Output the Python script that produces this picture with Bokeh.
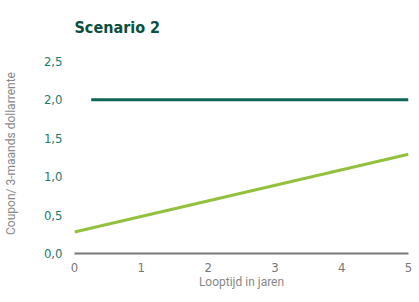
from bokeh.plotting import figure
from bokeh.models import Range1d, FixedTicker
from bokeh.embed import file_html
from bokeh.resources import INLINE

# data
x_ticks = [0, 1, 2, 3, 4, 5]
y_ticks = [0.0, 0.5, 1.0, 1.5, 2.0, 2.5]
y_tick_labels = {0.0: "0,0", 0.5: "0,5", 1.0: "1,0", 1.5: "1,5", 2.0: "2,0", 2.5: "2,5"}
coupon_x = [0.25, 5]
coupon_y = [2.0, 2.0]
rate_x = [0, 5]
rate_y = [0.28, 1.29]

COND = "DejaVu Sans Condensed"

p = figure(width=403, height=286, output_backend="svg", toolbar_location=None,
           frame_width=334, frame_height=200,
           x_range=Range1d(0, 5), y_range=Range1d(0, 2.6),
           title="Scenario 2")
p.title.text_font = COND
p.title.text_font_style = "bold"
p.title.text_font_size = "16px"
p.title.text_color = "#0b4f3f"
p.title.align = "left"
p.title.vertical_align = "top"
p.title.offset = 0
p.title.standoff = 29

p.outline_line_color = None
p.xgrid.grid_line_color = None
p.ygrid.grid_line_color = None
p.background_fill_color = "white"
p.border_fill_color = "white"

p.line(coupon_x, coupon_y, line_color="#0e6655", line_width=3)
p.line(rate_x, rate_y, line_color="#93c13e", line_width=3)

xa = p.xaxis[0]
xa.ticker = FixedTicker(ticks=x_ticks)
xa.axis_line_color = "#777777"
xa.axis_line_width = 2
xa.major_tick_line_color = None
xa.minor_tick_line_color = None
xa.major_label_text_font = COND
xa.major_label_text_font_size = "13px"
xa.major_label_text_color = "#777777"
xa.major_label_standoff = 3
xa.axis_label = "Looptijd in jaren"
xa.axis_label_text_font = "Roboto"
xa.axis_label_text_font_style = "normal"
xa.axis_label_text_font_size = "12px"
xa.axis_label_text_color = "#888888"
xa.axis_label_standoff = 0

ya = p.yaxis[0]
ya.ticker = FixedTicker(ticks=y_ticks)
ya.major_label_overrides = y_tick_labels
ya.axis_line_color = None
ya.major_tick_line_color = None
ya.minor_tick_line_color = None
ya.major_label_text_font = COND
ya.major_label_text_font_size = "13px"
ya.major_label_text_color = "#1c7a6e"
ya.major_label_standoff = 6
ya.axis_label = "Coupon/ 3-maands dollarrente"
ya.axis_label_text_font = "Roboto"
ya.axis_label_text_font_style = "normal"
ya.axis_label_text_font_size = "12px"
ya.axis_label_text_color = "#888888"
ya.axis_label_standoff = 23

p.min_border_left = 0
p.min_border_right = 5
p.min_border_top = 53
p.min_border_bottom = 0

open("out.html", "w").write(file_html(p, INLINE))
